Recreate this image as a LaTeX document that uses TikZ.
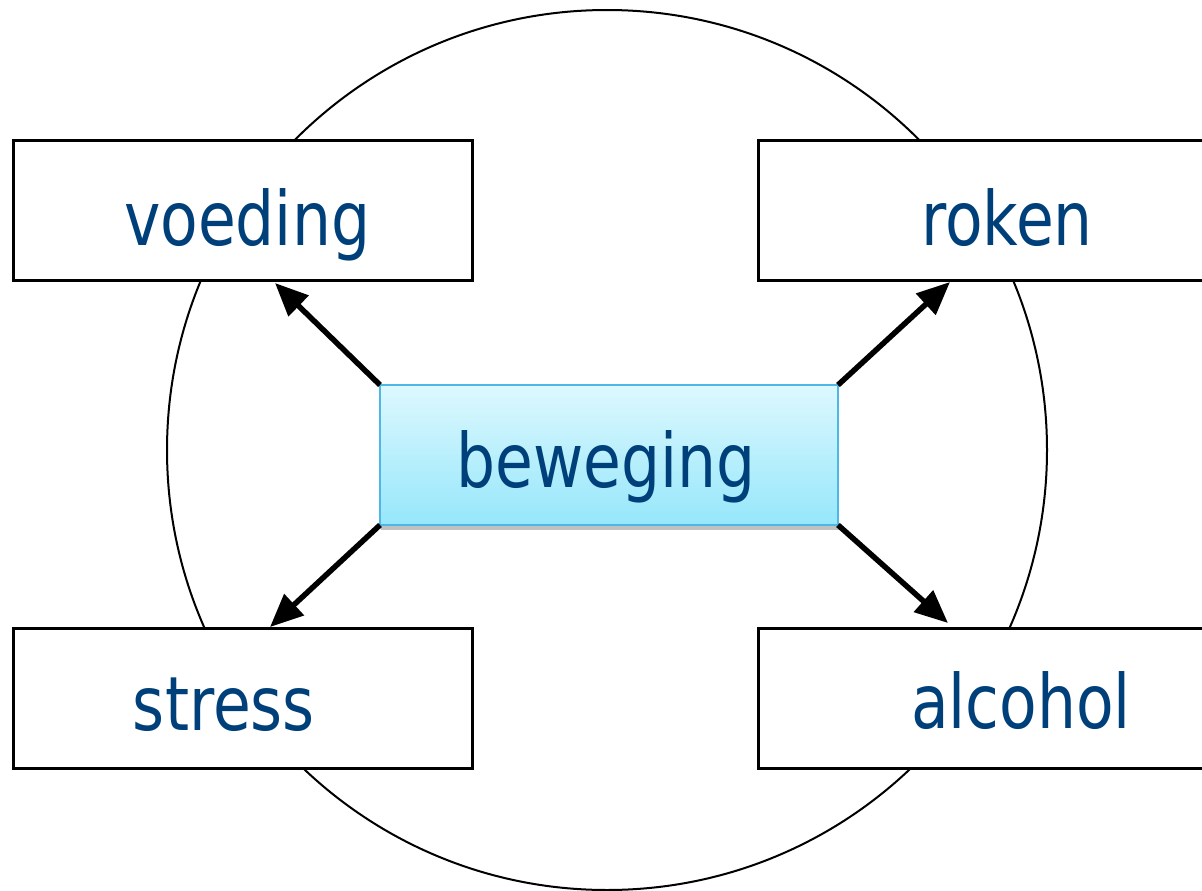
\documentclass[tikz,border=0pt]{standalone}
\usepackage{fontspec}
\newfontfamily\lblfont{DejaVu Sans}[FakeStretch=0.82]
\usetikzlibrary{arrows.meta,shadows,calc}
\definecolor{txt}{RGB}{0,64,122}
\definecolor{hubtop}{RGB}{221,248,254}
\definecolor{hubbot}{RGB}{150,231,251}
\definecolor{hubdraw}{RGB}{77,184,232}
\begin{document}
\begin{tikzpicture}[x=1pt,y=-1pt,
  box/.style={draw=black,line width=3pt,fill=white,minimum width=459pt,minimum height=140pt,inner sep=0pt,outer sep=0pt},
  hub/.style={draw=hubdraw,line width=1.5pt,top color=hubtop,bottom color=hubbot,minimum width=458pt,minimum height=140pt,inner sep=0pt,outer sep=0pt,
    drop shadow={shadow xshift=1pt,shadow yshift=-5pt,opacity=0.3,fill=black!80}},
  lbl/.style={text=txt,font=\lblfont\fontsize{75}{90}\selectfont,anchor=base,inner sep=0pt},
  arr/.style={line width=5.5pt,-{Triangle[length=33pt,width=28pt]}}]
\useasboundingbox (0,0) rectangle (1202,891);
\clip (0,0) rectangle (1202,891);
\draw[line width=2pt] (607,450) circle[radius=440];
\node[box] (voeding) at (242.5,210) {};
\node[box] (roken) at (987.5,210) {};
\node[box] (stress) at (242.5,698) {};
\node[box] (alcohol) at (987.5,698) {};
\node[hub] (bew) at (609,455) {};
\node[lbl] (tv) at (247,245) {voeding};
\node[lbl] (tr) at (1007,245) {roken};
\node[lbl] (ts) at (224,730) {stress};
\node[lbl] (ta) at (1021,728) {alcohol};
\node[lbl] (tb) at (606,487) {beweging};
\draw[arr] (bew.north west) -- ($(voeding.south west)+(262,3)$);
\draw[arr] (bew.north east) -- ($(roken.south west)+(192,2)$);
\draw[arr] (bew.south west) -- ($(stress.north west)+(257,-1)$);
\draw[arr] (bew.south east) -- ($(alcohol.north west)+(190,-5)$);
\end{tikzpicture}
\end{document}
